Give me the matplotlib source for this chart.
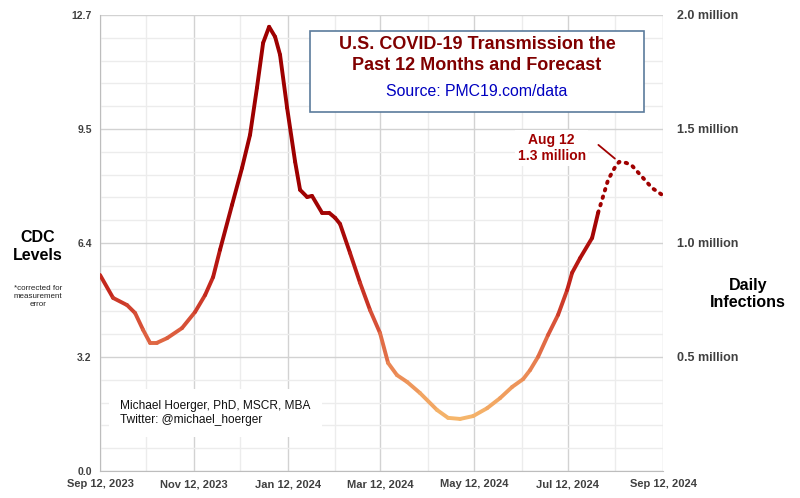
import numpy as np
import matplotlib
matplotlib.use("Agg")
import matplotlib.pyplot as plt
import matplotlib.dates as mdates
from matplotlib.collections import LineCollection
from matplotlib.colors import LinearSegmentedColormap

plt.rcParams['font.family'] = ['Liberation Sans', 'DejaVu Sans']

START = np.datetime64('2023-09-12')
# observed series: days since Sep 12, 2023 and CDC level
obs_days = [0, 8.5, 17.6, 22.8, 28, 32.5, 37, 43.6, 53.3, 61.8, 68.3, 73.5, 78, 85.8,
            92.3, 97.5, 102, 106, 109.9, 113.8, 117, 121.6, 126.8, 130, 134.6, 137.8,
            144.3, 148.9, 152.8, 156, 162.5, 169, 175.5, 182, 187.2, 193, 199.6, 208,
            219, 226.2, 234, 242.5, 251.6, 260, 267.8, 275, 279.5, 284.7, 291.2, 297.7,
            303.6, 306.8, 312, 319.8, 323.7]
obs_vals = [5.46, 4.82, 4.62, 4.40, 3.93, 3.57, 3.57, 3.70, 3.98, 4.43, 4.90, 5.40, 6.16, 7.41,
            8.44, 9.36, 10.67, 11.92, 12.37, 12.09, 11.59, 10.11, 8.61, 7.83, 7.63, 7.66,
            7.19, 7.19, 7.05, 6.88, 6.07, 5.24, 4.48, 3.84, 3.01, 2.67, 2.48, 2.17,
            1.70, 1.48, 1.45, 1.53, 1.75, 2.03, 2.34, 2.56, 2.81, 3.18, 3.79, 4.35,
            5.04, 5.52, 5.93, 6.49, 7.19]
# forecast series
fc_days = [323.7, 330.2, 334.8, 337.4, 342, 345.8, 352.3, 358.8, 365.3]
fc_vals = [7.19, 8.11, 8.47, 8.61, 8.58, 8.50, 8.19, 7.88, 7.69]

y_ticks = [0.0, 3.175, 6.35, 9.525, 12.7]
y_labels = ['0.0', '3.2', '6.4', '9.5', '12.7']
right_ticks = [0.5, 1.0, 1.5, 2.0]
right_labels = ['0.5 million', '1.0 million', '1.5 million', '2.0 million']
x_major = ['2023-09-12', '2023-11-12', '2024-01-12', '2024-03-12', '2024-05-12', '2024-07-12', '2024-09-12']
x_minor = ['2023-10-12', '2023-12-12', '2024-02-12', '2024-04-12', '2024-06-12', '2024-08-12']
x_labels = ['Sep 12, 2023', 'Nov 12, 2023', 'Jan 12, 2024', 'Mar 12, 2024', 'May 12, 2024', 'Jul 12, 2024', 'Sep 12, 2024']

def to_num(days):
    base = mdates.date2num(START)
    return base + np.asarray(days, dtype=float)

fig = plt.figure(figsize=(8, 4.98), dpi=100)
ax = fig.add_axes([0.125, 0.0542, 0.704, 0.9158])

# grid
xmaj = mdates.date2num(np.array(x_major, dtype='datetime64[D]'))
xmin = mdates.date2num(np.array(x_minor, dtype='datetime64[D]'))
ax.set_xlim(xmaj[0], xmaj[-1])
ax.set_ylim(0, 12.7)
ax.set_xticks(xmaj)
ax.set_xticklabels(x_labels)
ax.set_xticks(xmin, minor=True)
ax.set_yticks(y_ticks)
ax.set_yticklabels(y_labels)
ax.set_yticks(np.arange(0, 12.71, 12.7 / 20), minor=True)
ax.grid(True, which='major', color='#d2d2d2', lw=1.0, zorder=0)
ax.grid(True, which='minor', color='#ececec', lw=1.0, zorder=0)
ax.set_axisbelow(True)
ax.tick_params(which='both', length=0)
ax.tick_params(axis='x', pad=6, labelsize=8, labelcolor='#404040')
ax.tick_params(axis='y', pad=6, labelsize=7.5, labelcolor='#404040')
for lab in ax.get_xticklabels():
    lab.set_fontweight('bold')
for lab in ax.get_yticklabels():
    lab.set_fontweight('bold')
for s in ['top', 'right']:
    ax.spines[s].set_visible(False)
for s in ['left', 'bottom']:
    ax.spines[s].set_color('#bdbdbd')

# gradient line
xs = to_num(obs_days)
ys = np.array(obs_vals)
pts = np.column_stack([xs, ys]).reshape(-1, 1, 2)
segs = np.concatenate([pts[:-1], pts[1:]], axis=1)
cmap = LinearSegmentedColormap.from_list('tr', ['#f6b86c', '#eb8a55', '#d9553a', '#c02018', '#a50606', '#9e0000'])
mid = (ys[:-1] + ys[1:]) / 2
lc = LineCollection(segs, cmap=cmap, norm=plt.Normalize(1.4, 8.0), linewidth=2.8, capstyle='round', joinstyle='round', zorder=3)
lc.set_array(mid)
ax.add_collection(lc)

# forecast dotted
ax.plot(to_num(fc_days), fc_vals, color='#a00000', lw=2.8, linestyle=(0, (0.4, 1.6)),
        dash_capstyle='round', zorder=3)

# annotation
ax.annotate('', xy=(to_num([336])[0], 8.65), xytext=(to_num([322.5])[0], 9.13),
            arrowprops=dict(arrowstyle='-', color='#a00000', lw=1.3))
ax.text(to_num([293.5])[0], 9.0, 'Aug 12\n1.3 million', ha='center', va='center',
        color='#a00000', fontsize=10, fontweight='bold', linespacing=1.2, zorder=4,
        bbox=dict(facecolor='white', edgecolor='none', pad=2))

# title box
fig.patches.append(plt.Rectangle((310 / 800, 1 - 112 / 498), 334 / 800, 81 / 498,
                                 transform=fig.transFigure, facecolor='white',
                                 edgecolor='#5b7b9c', lw=1.2, zorder=5))
fig.text(477 / 800, 1 - 55 / 498, 'U.S. COVID-19 Transmission the\nPast 12 Months and Forecast',
         ha='center', va='center', color='#800000', fontsize=13, fontweight='bold',
         linespacing=1.35, zorder=6)
fig.text(477 / 800, 1 - 92 / 498, 'Source: PMC19.com/data', ha='center', va='center',
         color='#0000c0', fontsize=11.4, zorder=6)

# author box
ax.text(0.036, 0.127, 'Michael Hoerger, PhD, MSCR, MBA\nTwitter: @michael_hoerger',
        transform=ax.transAxes, ha='left', va='center', fontsize=8.6, color='#111111',
        linespacing=1.15, zorder=4,
        bbox=dict(facecolor='white', edgecolor='none', pad=8))

# axis titles
fig.text(38 / 800, 1 - 246 / 498, 'CDC\nLevels', ha='center', va='center', fontsize=11.5,
         fontweight='bold', linespacing=1.25)
fig.text(38 / 800, 1 - 296 / 498, '*corrected for\nmeasurement\nerror', ha='center', va='center',
         fontsize=5.8, linespacing=1.2, color='#222222')
fig.text(748 / 800, 1 - 294 / 498, 'Daily\nInfections', ha='center', va='center', fontsize=11.5,
         fontweight='bold', linespacing=1.2)

# right axis
ax2 = ax.twinx()
ax2.set_ylim(0, 2.0)
ax2.set_yticks(right_ticks)
ax2.set_yticklabels(right_labels)
ax2.tick_params(length=0, pad=10, labelsize=9, labelcolor='#404040')
for lab in ax2.get_yticklabels():
    lab.set_fontweight('bold')
for s in ax2.spines.values():
    s.set_visible(False)

fig.savefig('out.png', dpi=100, facecolor='white')
